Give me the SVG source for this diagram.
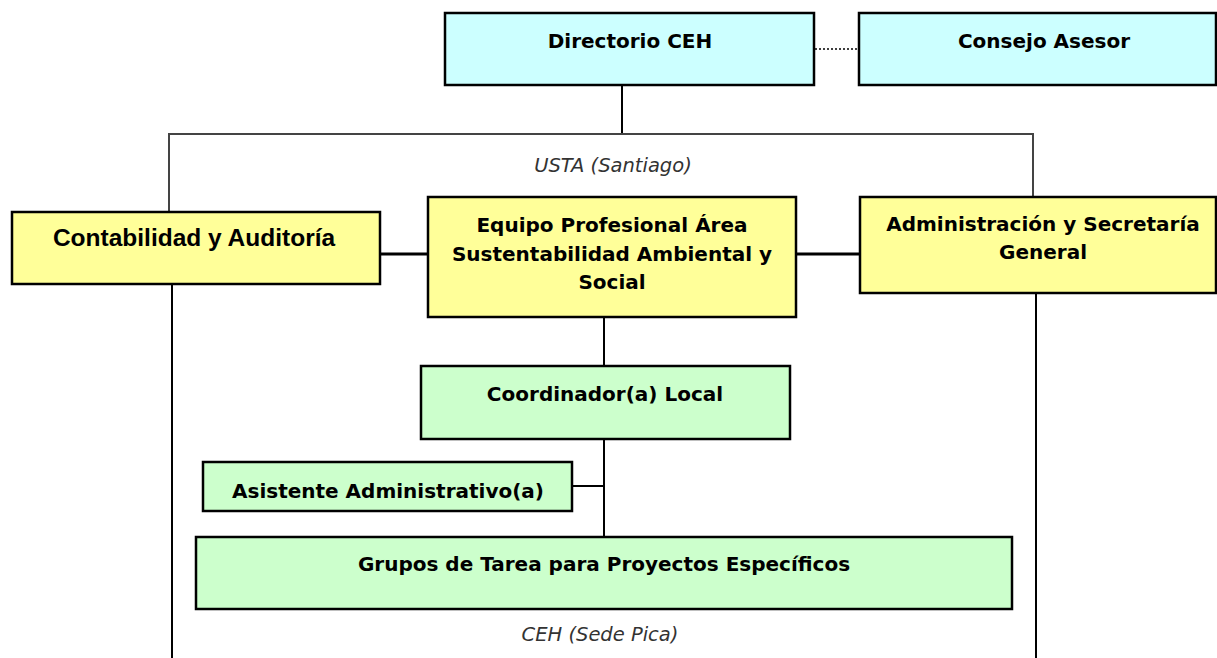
<svg xmlns="http://www.w3.org/2000/svg" width="1217" height="658" viewBox="0 0 1217 658">
<style>
.box{stroke:#000;stroke-width:2.5}
.cyan{fill:#CCFFFF}
.yellow{fill:#FFFF99}
.green{fill:#CCFFCC}
.lbl{font-family:"DejaVu Sans","Liberation Sans",sans-serif;font-weight:bold;font-size:20px;fill:#000;text-anchor:middle}
.arial{font-family:"Liberation Sans",Arial,sans-serif;font-weight:bold;font-size:24.5px;fill:#000;text-anchor:middle}
.note{font-family:"DejaVu Sans","Liberation Sans",sans-serif;font-style:italic;font-size:19.5px;fill:#333;text-anchor:middle}
.ln{stroke:#000;stroke-width:2;fill:none}
.thick{stroke:#000;stroke-width:3;fill:none}
.grey{stroke:#444;stroke-width:2;fill:none}
.dot{stroke:#000;stroke-width:1.5;stroke-dasharray:2 2;fill:none}
</style>
<rect width="1217" height="658" fill="#fff"/>
<g id="connectors">
<line class="dot" x1="815" y1="49" x2="859" y2="49"/>
<line class="ln" x1="622" y1="86" x2="622" y2="134"/>
<polyline class="grey" points="169,212 169,134 1033,134 1033,197"/>
<line class="ln" x1="172" y1="285" x2="172" y2="658"/>
<line class="ln" x1="1036" y1="294" x2="1036" y2="658"/>
<line class="thick" x1="380" y1="254" x2="428" y2="254"/>
<line class="thick" x1="796" y1="254" x2="860" y2="254"/>
<line class="ln" x1="604" y1="318" x2="604" y2="366"/>
<line class="ln" x1="604" y1="439" x2="604" y2="537"/>
<line class="ln" x1="572" y1="486" x2="604" y2="486"/>
</g>
<g id="usta-label"><text class="note" x="613" y="172">USTA (Santiago)</text></g>
<g id="ceh-label"><text class="note" x="600" y="641">CEH (Sede Pica)</text></g>
<g id="directorio">
<rect class="box cyan" x="445" y="13" width="369" height="72"/>
<text class="lbl" x="630" y="48">Directorio CEH</text>
</g>
<g id="consejo">
<rect class="box cyan" x="859" y="13" width="357" height="72"/>
<text class="lbl" x="1044" y="48">Consejo Asesor</text>
</g>
<g id="contabilidad">
<rect class="box yellow" x="12" y="212" width="368" height="72"/>
<text class="arial" x="194" y="246">Contabilidad y Auditoría</text>
</g>
<g id="equipo">
<rect class="box yellow" x="428" y="197" width="368" height="120"/>
<text class="lbl" x="612" y="232">Equipo Profesional Área</text>
<text class="lbl" x="612" y="261">Sustentabilidad Ambiental y</text>
<text class="lbl" x="612" y="289">Social</text>
</g>
<g id="administracion">
<rect class="box yellow" x="860" y="197" width="356" height="96"/>
<text class="lbl" x="1043" y="231">Administración y Secretaría</text>
<text class="lbl" x="1043" y="259">General</text>
</g>
<g id="coordinador">
<rect class="box green" x="421" y="366" width="369" height="73"/>
<text class="lbl" x="605" y="401">Coordinador(a) Local</text>
</g>
<g id="asistente">
<rect class="box green" x="203" y="462" width="369" height="49"/>
<text class="lbl" x="388" y="498">Asistente Administrativo(a)</text>
</g>
<g id="grupos">
<rect class="box green" x="196" y="537" width="816" height="72"/>
<text class="lbl" x="604" y="571">Grupos de Tarea para Proyectos Específicos</text>
</g>
</svg>
